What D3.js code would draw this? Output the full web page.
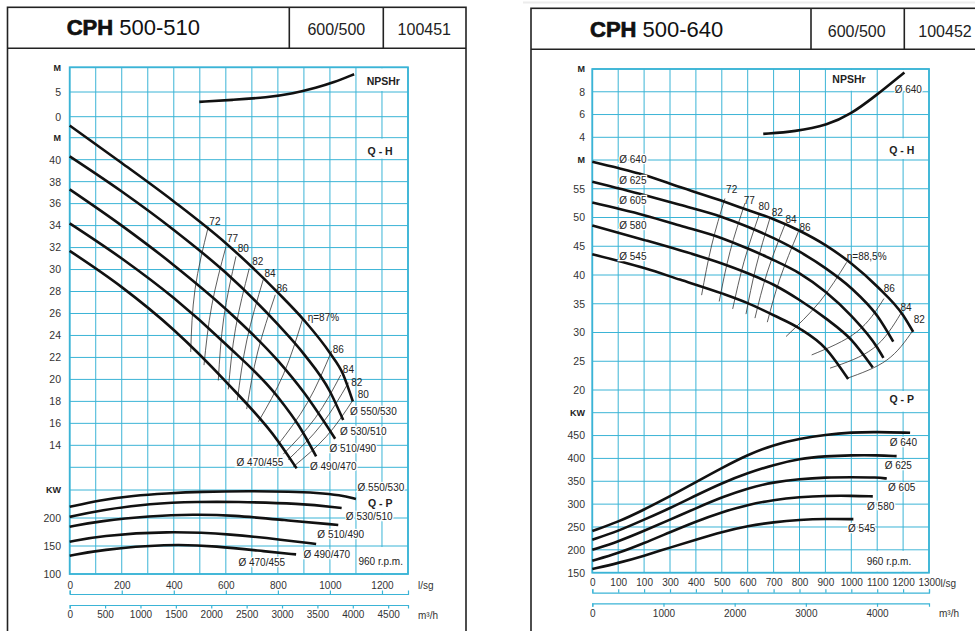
<!DOCTYPE html>
<html>
<head>
<meta charset="utf-8">
<script src="https://cdn.jsdelivr.net/npm/d3@7"></script>
<style>
  body { margin: 0; background: #fff; }
  svg { display: block; }
</style>
</head>
<body>
<div id="chart"></div>
<script>
const width = 975;
const height = 631;
const gridColor = "#3bb4d6";
const font = "'Liberation Sans', Arial, Helvetica, sans-serif";

// flow grid, l/s
const qGrid = d3.range(0, 1301, 100);

// ---------- CPH 500-510 ----------
const titleL = ["CPH", " 500-510", "600/500", "100451"];
const diaL = ["Ø 550/530", "Ø 530/510", "Ø 510/490", "Ø 490/470", "Ø 470/455"];

const npshL = [[498, 3.0], [629, 3.4], [757, 3.9], [859, 4.7], [949, 5.9], [1013, 6.9], [1093, 8.6]];

const headL = [
  [[0, 43.1], [200, 39.7], [400, 36.2], [600, 32.4], [800, 27.9], [900, 25.4], [1000, 22.4], [1050, 20.5], [1088, 18.0]],
  [[0, 40.3], [200, 37.1], [400, 33.6], [600, 29.7], [800, 25.0], [900, 22.3], [1000, 18.9], [1051, 16.3]],
  [[0, 37.3], [200, 34.0], [400, 30.4], [600, 26.4], [800, 21.7], [900, 18.8], [1020, 14.6]],
  [[0, 34.2], [200, 31.0], [400, 27.4], [600, 23.2], [800, 18.4], [880, 15.8], [947, 13.0]],
  [[0, 31.7], [200, 28.4], [400, 24.5], [600, 19.8], [800, 14.4], [872, 11.9]]
];

const powerL = [
  [[0, 220], [116, 232], [245, 240], [373, 244], [500, 247], [693, 248], [850, 247], [949, 245], [1039, 241], [1100, 234]],
  [[0, 202], [116, 214], [309, 226], [501, 229], [628, 229], [885, 226], [1045, 218]],
  [[0, 184.5], [116, 194.6], [309, 203.6], [475, 206.6], [628, 205], [821, 196.4], [1032, 187.5]],
  [[0, 157.7], [116, 168], [373, 176.8], [628, 171], [821, 160.7], [947, 153.6]],
  [[0, 132.7], [116, 143], [373, 153.6], [565, 150], [757, 140], [870, 135]]
];

// efficiency iso-lines (Q, H): top, middle, bottom
const effL = [
  [[532.7, 33.9], [481.6, 28.2], [465, 22.5]],
  [[600.7, 32.1], [545.7, 26.7], [516, 21.3]],
  [[639, 31.2], [592, 25.6], [571, 19.9]],
  [[690, 30.1], [637, 24.6], [609.5, 19.1]],
  [[744, 29.1], [681, 23.6], [644, 18.1]],
  [[790, 27.7], [722.5, 22.5], [680, 17.3]],
  [[895, 25.5], [822, 20.5], [725, 16.15]],
  [[1007, 22.6], [914, 17.9], [795.5, 13.9]],
  [[1041.5, 20.4], [944, 16.5], [821, 13.2]],
  [[1071, 19.7], [968, 15.9], [840, 12.7]],
  [[1088, 18.1], [986, 14.8], [859, 12.05]]
];
const effTextL = [
  ["72", 558, 34.35], ["77", 626, 32.8], ["80", 667, 31.9], ["82", 722.5, 30.7], ["84", 770, 29.6],
  ["86", 816, 28.3], ["η=87%", 975, 25.6], ["86", 1032, 22.7], ["84", 1071, 20.9], ["82", 1103, 19.7], ["80", 1128, 18.6]
];
const headTextL = [[1167, 17.1], [1128, 15.3], [1088, 13.7], [1013, 12.05], [731, 12.4]];
const powerTextL = [[1196, 254], [1151, 202], [1041.5, 171.4], [988, 135.2], [738, 120.9]];

// ---------- CPH 500-640 ----------
const titleR = ["CPH", " 500-640", "600/500", "100452"];
const diaR = ["Ø 640", "Ø 625", "Ø 605", "Ø 580", "Ø 545"];

const npshR = [[660, 4.3], [783, 4.5], [911, 5.1], [996, 6.0], [1092, 7.6], [1205, 9.7]];

const headR = [
  [[0, 59.7], [100, 58.6], [200, 57.4], [338, 55.3], [500, 52.9], [600, 51.3], [700, 49.7], [800, 47.7], [900, 45.2], [1000, 42.0], [1100, 38.0], [1200, 33.0], [1239, 30.1]],
  [[0, 56.2], [200, 53.9], [338, 52.2], [500, 50.1], [600, 48.4], [700, 46.4], [800, 44.05], [900, 41.2], [1000, 37.7], [1100, 32.9], [1162, 28.4]],
  [[0, 52.6], [200, 50.4], [338, 48.6], [500, 46.4], [600, 44.6], [700, 42.6], [800, 40.3], [900, 37.1], [1000, 32.9], [1100, 27.4], [1124, 25.6]],
  [[0, 48.6], [200, 46.1], [338, 44.3], [500, 42.0], [600, 40.3], [700, 38.3], [800, 35.65], [900, 32.5], [1000, 28.7], [1083, 23.9]],
  [[0, 43.6], [200, 41.2], [338, 39.2], [500, 36.8], [600, 35.1], [700, 33.0], [800, 30.7], [900, 27.25], [988, 21.9]]
];

const powerR = [
  [[0, 241], [100, 261], [200, 288], [300, 317], [400, 348], [500, 379], [600, 408], [700, 430], [800, 443], [900, 452], [1000, 457], [1100, 458], [1227, 456]],
  [[0, 222], [100, 241], [200, 266], [300, 291], [400, 319], [500, 346], [600, 368], [700, 386], [800, 399.5], [900, 405], [1000, 407], [1100, 407], [1175, 405]],
  [[0, 200], [100, 218], [200, 241.5], [300, 266], [400, 291], [500, 315], [600, 335], [700, 348], [800, 355], [900, 358.5], [1000, 359], [1100, 358.5], [1137, 356]],
  [[0, 176], [100, 192.5], [200, 214.5], [300, 238.6], [400, 262], [500, 282.5], [600, 298.6], [700, 309.5], [800, 315.4], [900, 318.3], [1000, 318.3], [1083, 317]],
  [[0, 158], [100, 171], [200, 187], [300, 205], [400, 222], [500, 239], [600, 252.5], [700, 260.6], [800, 265.6], [900, 267.8], [1008, 267.2]]
];

const effR = [
  [[512, 53.3], [461, 45.2], [422, 36.5]],
  [[589.6, 52.5], [531.7, 44.05], [490, 35.4]],
  [[645, 50.6], [585.7, 42.3], [542, 34.1]],
  [[686, 49.9], [632, 41.4], [593.4, 33.2]],
  [[744, 48.8], [675.7, 40.5], [628, 32.5]],
  [[795.4, 47.5], [724.7, 39.4], [675.7, 31.8]],
  [[982, 42.2], [879, 35.4], [748, 29.3]],
  [[1126, 35.9], [1021, 30.1], [847, 26.1]],
  [[1191, 33.3], [1085, 27.25], [918, 23.8]],
  [[1237, 30.3], [1137, 25.2], [982, 22.0]]
];
const effTextR = [
  ["72", 538, 54.8], ["77", 606, 53.0], ["80", 663, 51.9], ["82", 714, 50.8], ["84", 767, 49.6], ["86", 821, 48.2],
  ["η=88,5%", 1059.5, 43.2], ["86", 1147, 37.6], ["84", 1211, 34.3], ["82", 1262.5, 32.2]
];
const headTextR = [[104, 60.1], [104, 56.5], [104, 52.9], [104, 48.6], [104, 43.3]];
const powerTextR = [[1201, 434], [1181.5, 384], [1194.6, 336.5], [1113.5, 294.8], [1040, 245.9]];

// tick labels
const qLabelsL = [0, 200, 400, 600, 800, 1000, 1200];
const m3LabelsL = d3.range(0, 4501, 500);
const qLabelsR = ["0", "100", "100", "300", "400", "500", "600", "700", "800", "900", "1000", "1100", "1200", "1300"];
const m3LabelsR = [0, 1000, 2000, 3000, 4000];

const svg = d3.select("#chart").append("svg")
  .attr("width", width)
  .attr("height", height)
  .attr("font-family", font);

function drawPanel(cfg) {
  const g = svg.append("g");

  // frame + title row
  g.append("rect")
    .attr("x", cfg.frame[0]).attr("y", cfg.frame[1])
    .attr("width", cfg.frame[2] - cfg.frame[0]).attr("height", 700)
    .attr("fill", "none").attr("stroke", "#222").attr("stroke-width", 1.6);
  g.append("line")
    .attr("x1", cfg.frame[0]).attr("x2", cfg.frame[2])
    .attr("y1", cfg.titleBottom).attr("y2", cfg.titleBottom)
    .attr("stroke", "#222").attr("stroke-width", 1.6);
  cfg.dividers.forEach(dx => {
    g.append("line")
      .attr("x1", dx).attr("x2", dx)
      .attr("y1", cfg.frame[1]).attr("y2", cfg.titleBottom)
      .attr("stroke", "#222").attr("stroke-width", 1.6);
  });
  const title = g.append("text")
    .attr("x", cfg.titleX).attr("y", cfg.titleBase)
    .attr("font-size", 22).attr("fill", "#111");
  title.append("tspan").attr("font-weight", "bold")
    .attr("stroke", "#111").attr("stroke-width", 0.7).text(cfg.title[0]);
  title.append("tspan").text(cfg.title[1]);
  [2, 3].forEach(i => {
    g.append("text")
      .attr("x", cfg.cellX[i - 2]).attr("y", cfg.titleBase)
      .attr("text-anchor", "middle").attr("font-size", 16).attr("fill", "#222")
      .text(cfg.title[i]);
  });

  const x = d3.scaleLinear().domain([0, 1300]).range([cfg.x0, cfg.x1]);
  const y = {
    n: d3.scaleLinear().domain(cfg.nDomain).range(cfg.nRange),
    h: d3.scaleLinear().domain(cfg.hDomain).range(cfg.hRange),
    p: d3.scaleLinear().domain(cfg.pDomain).range(cfg.pRange)
  };
  const yTop = cfg.nRange[1];
  const yBottom = cfg.pRange[0];

  // grid
  const grid = g.append("g").attr("stroke", gridColor).attr("stroke-width", 1);
  grid.selectAll(".vgrid").data(qGrid).join("line")
    .attr("class", "vgrid")
    .attr("x1", d => x(d)).attr("x2", d => x(d))
    .attr("y1", yTop).attr("y2", yBottom);
  ["n", "h", "p"].forEach(k => {
    grid.selectAll(".hgrid-" + k).data(cfg.ticks[k]).join("line")
      .attr("class", "hgrid-" + k)
      .attr("x1", cfg.x0).attr("x2", cfg.x1)
      .attr("y1", d => y[k](d)).attr("y2", d => y[k](d));
  });

  // white label cells
  g.selectAll(".box").data(cfg.boxes).join("rect")
    .attr("class", "box")
    .attr("x", d => x(d.q[0]) + 1)
    .attr("width", d => x(d.q[1]) - x(d.q[0]) - 2)
    .attr("y", d => y[d.top[0]](d.top[1]) + 1)
    .attr("height", d => y[d.bot[0]](d.bot[1]) - y[d.top[0]](d.top[1]) - 2)
    .attr("fill", "#fff");

  g.append("rect")
    .attr("x", cfg.x0).attr("y", yTop)
    .attr("width", cfg.x1 - cfg.x0).attr("height", yBottom - yTop)
    .attr("fill", "none").attr("stroke", gridColor).attr("stroke-width", 1.8);

  // left tick labels
  ["n", "h", "p"].forEach(k => {
    const ax = g.append("g")
      .attr("transform", `translate(${cfg.x0},0)`)
      .call(d3.axisLeft(y[k]).tickValues(cfg.ticks[k]).tickSize(0)
        .tickPadding(cfg.pad).tickFormat(cfg.tickText[k]));
    ax.select(".domain").remove();
    ax.selectAll("text")
      .attr("font-family", font).attr("font-size", 10.5).attr("fill", "#333");
    ax.selectAll("text").filter(function () { return /[A-Z]/.test(this.textContent); })
      .attr("font-weight", "bold").attr("font-size", 9).attr("fill", "#222");
  });

  // bottom axes
  const axQ = g.append("g")
    .attr("transform", `translate(0,${cfg.qAxisY})`)
    .call(d3.axisTop(x).tickValues(cfg.qTickValues).tickFormat(cfg.qTickText)
      .tickSize(3.5).tickSizeOuter(3.5).tickPadding(cfg.qPad));
  const m3 = d3.scaleLinear().domain([0, cfg.m3Max]).range([cfg.x0, cfg.x1]);
  const axM = g.append("g")
    .attr("transform", `translate(0,${cfg.m3AxisY})`)
    .call(d3.axisBottom(m3).tickValues(cfg.m3Ticks).tickFormat(d => d)
      .tickSize(3.5).tickSizeOuter(3.5).tickPadding(2.8));
  [axQ, axM].forEach(ax => {
    ax.select(".domain").attr("stroke", gridColor).attr("stroke-width", 1.2);
    ax.selectAll(".tick line").attr("stroke", gridColor).attr("stroke-width", 1.2);
    ax.selectAll("text").attr("font-family", font).attr("font-size", 10).attr("fill", "#333");
  });
  g.append("text").attr("x", cfg.unitX[0]).attr("y", cfg.qAxisY - 9).attr("dy", "0.35em")
    .attr("font-size", 10).attr("fill", "#333").text("l/sg");
  g.append("text").attr("x", cfg.unitX[1]).attr("y", cfg.m3AxisY + 10).attr("dy", "0.35em")
    .attr("font-size", 10).attr("fill", "#333").text("m³/h");

  // curves
  const curve = (sc, c) => d3.line().x(d => x(d[0])).y(d => sc(d[1])).curve(c);
  const iso = d3.line().x(d => x(d[0])).y(d => y.h(d[1])).curve(d3.curveNatural);

  g.append("g").selectAll("path").data(cfg.eff).join("path")
    .attr("d", iso).attr("fill", "none").attr("stroke", "#333").attr("stroke-width", 0.8);

  const thick = g.append("g").attr("fill", "none").attr("stroke", "#111")
    .attr("stroke-width", 2.6).attr("stroke-linecap", "butt");
  thick.append("path").datum(cfg.npsh).attr("d", curve(y.n, d3.curveBasis));
  thick.selectAll(".head").data(cfg.head).join("path").attr("class", "head")
    .attr("d", curve(y.h, d3.curveMonotoneX));
  thick.selectAll(".power").data(cfg.power).join("path").attr("class", "power")
    .attr("d", curve(y.p, d3.curveBasis));

  // labels
  const label = (txt, q, v, k, opts = {}) => g.append("text")
    .attr("x", x(q)).attr("y", y[k](v)).attr("dy", "0.35em")
    .attr("text-anchor", opts.anchor || "middle")
    .attr("font-size", opts.size || 10)
    .attr("font-weight", opts.bold ? "bold" : null)
    .attr("fill", "#222")
    .attr("stroke", "#fff").attr("stroke-width", opts.halo === false ? 0 : 2.5)
    .attr("paint-order", "stroke")
    .text(txt);

  cfg.effText.forEach(d => label(d[0], d[1], d[2], "h", { halo: false }));
  cfg.headText.forEach((d, i) => label(cfg.dia[i], d[0], d[1], "h", { anchor: cfg.headAnchor }));
  cfg.powerText.forEach((d, i) => label(cfg.dia[i], d[0], d[1], "p"));
  cfg.bold.forEach(d => label(d[0], d[1], d[2], d[3], { bold: true, size: 10.5 }));
  cfg.extra.forEach(d => label(d[0], d[1], d[2], d[3]));
}

drawPanel({
  title: titleL, frame: [7.5, 7.3, 466], titleBottom: 48.3, dividers: [289.3, 383.3],
  titleX: 66.7, titleBase: 35, cellX: [336.3, 424.3],
  x0: 69.7, x1: 408,
  nDomain: [0, 10], nRange: [116.7, 67.3],
  hDomain: [12, 42], hRange: [467.3, 137.7],
  pDomain: [100, 250], pRange: [574, 490],
  ticks: { n: [0, 5, 10], h: d3.range(12, 43, 2), p: [100, 150, 200, 250] },
  tickText: {
    n: d => d === 10 ? "M" : d,
    h: d => d === 42 ? "M" : d === 12 ? "" : d,
    p: d => d === 250 ? "KW" : d
  },
  pad: 8.7,
  boxes: [
    { q: [1100, 1300], top: ["n", 10], bot: ["n", 5] },
    { q: [1100, 1300], top: ["h", 42], bot: ["h", 40] },
    { q: [1100, 1300], top: ["p", 250], bot: ["p", 200] },
    { q: [1100, 1300], top: ["p", 150], bot: ["p", 100] }
  ],
  qAxisY: 594, qTickValues: qLabelsL, qTickText: d => d, qPad: 2,
  m3AxisY: 605, m3Max: 4780, m3Ticks: m3LabelsL, unitX: [418, 418],
  npsh: npshL, head: headL, power: powerL, eff: effL,
  effText: effTextL, dia: diaL, headText: headTextL, headAnchor: "middle", powerText: powerTextL,
  bold: [["NPSHr", 1205, 7.1, "n"], ["Q - H", 1193, 40.8, "h"], ["Q - P", 1193, 226, "p"]],
  extra: [["960 r.p.m.", 1195, 123.2, "p"]]
});

drawPanel({
  title: titleR, frame: [531, 8.3, 1000], titleBottom: 49.3, dividers: [811, 904.3],
  titleX: 590, titleBase: 36.7, cellX: [856.7, 945],
  x0: 592.3, x1: 929,
  nDomain: [4, 10], nRange: [137.3, 69],
  hDomain: [20, 60], hRange: [390, 160],
  pDomain: [150, 500], pRange: [572.7, 412.7],
  ticks: { n: [4, 6, 8, 10], h: d3.range(20, 61, 5), p: d3.range(150, 501, 50) },
  tickText: {
    n: d => d === 10 ? "M" : d,
    h: d => d === 60 ? "M" : d,
    p: d => d === 500 ? "KW" : d
  },
  pad: 7.3,
  boxes: [
    { q: [900, 1100], top: ["n", 10], bot: ["n", 8] },
    { q: [1100, 1300], top: ["n", 10], bot: ["n", 8] },
    { q: [1100, 1300], top: ["n", 4], bot: ["h", 60] },
    { q: [1100, 1300], top: ["h", 20], bot: ["p", 500] },
    { q: [1000, 1300], top: ["p", 200], bot: ["p", 150] }
  ],
  qAxisY: 592.7, qTickValues: qGrid, qTickText: (d, i) => qLabelsR[i], qPad: 3,
  m3AxisY: 603.3, m3Max: 4730, m3Ticks: m3LabelsR, unitX: [940.5, 939],
  npsh: npshR, head: headR, power: powerR, eff: effR,
  effText: effTextR, dia: diaR, headText: headTextR, headAnchor: "start", powerText: powerTextR,
  bold: [["NPSHr", 991, 9.1, "n"], ["Q - H", 1194.6, 61.6, "h"], ["Q - P", 1194.6, 18.3, "h"]],
  extra: [["Ø 640", 1220, 8.2, "n"], ["960 r.p.m.", 1145.5, 174, "p"]]
});

// faint scan edge above the right sheet
svg.append("line")
  .attr("x1", 523).attr("x2", width).attr("y1", 2.5).attr("y2", 2.5)
  .attr("stroke", "#ececec").attr("stroke-width", 2);
</script>
</body>
</html>
